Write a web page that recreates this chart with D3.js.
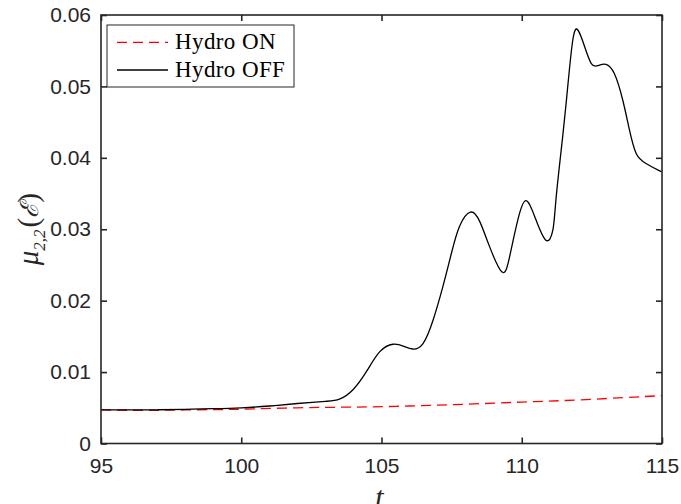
<!DOCTYPE html>
<html>
<head>
	<script src="https://d3js.org/d3.v7.min.js"></script>
	<title></title>
	<style type="text/css">
		body{ margin:0; background:#fff; }
		#chart{ width:681px; height:504px; }
		.tick text{ font-family: "Liberation Sans", Arial, sans-serif; font-size:21px; fill:#262626; }
	</style>
</head>
<body>

	<div id="chart"></div>

	<script type="text/javascript">

		// Hydro OFF (black solid)
		var tOff  = [95, 96, 97, 98, 99, 100, 101, 102, 103, 103.5, 104, 104.5, 104.94, 105.41, 105.8, 106.12, 106.48, 106.84, 107.19, 107.49, 107.78, 108.17, 108.5, 108.85, 109.3, 109.57, 109.86, 110.14, 110.46, 110.85, 111.11, 111.23, 111.46, 111.64, 111.82, 112.0, 112.24, 112.48, 112.71, 113.0, 113.3, 113.6, 113.84, 114.08, 114.43, 114.9, 115];
		var muOff = [0.0047, 0.0047, 0.00472, 0.00478, 0.00487, 0.0050, 0.00525, 0.0056, 0.0059, 0.0062, 0.0076, 0.0103, 0.01286, 0.0139, 0.0136, 0.01323, 0.0140, 0.0173, 0.0220, 0.0266, 0.0304, 0.0324, 0.0311, 0.0276, 0.0240, 0.0262, 0.0313, 0.0340, 0.0318, 0.0285, 0.0299, 0.0346, 0.0430, 0.0500, 0.0565, 0.0579, 0.0556, 0.0532, 0.0529, 0.0531, 0.0518, 0.0481, 0.0439, 0.0406, 0.0392, 0.0382, 0.0381];

		// Hydro ON (red dashed)
		var tOn  = [95, 96, 97, 98, 99, 100, 102, 104, 106, 108, 110, 112, 114, 115];
		var muOn = [0.0047, 0.00465, 0.00465, 0.0047, 0.00475, 0.0048, 0.0050, 0.0051, 0.00525, 0.0055, 0.0058, 0.0061, 0.0065, 0.0067];

		var xTicks = [95, 100, 105, 110, 115];
		var yTicks = [0, 0.01, 0.02, 0.03, 0.04, 0.05, 0.06];
		var legendNames = ["Hydro ON", "Hydro OFF"];

		var width = 681, height = 504;
		var pl = 101, pr = 662, pt = 15, pb = 443.5;

		var svg = d3.select("#chart")
			.append("svg")
			.attr("width", width)
			.attr("height", height);

		var xscale = d3.scaleLinear().domain([95, 115]).range([pl, pr]);
		var yscale = d3.scaleLinear().domain([0, 0.06]).range([pb, pt]);

		svg.append("clipPath").attr("id", "clip")
			.append("rect")
			.attr("x", pl).attr("y", pt)
			.attr("width", pr - pl).attr("height", pb - pt);

		var line = d3.line()
			.x(function(d){ return xscale(d[0]) })
			.y(function(d){ return yscale(d[1]) })
			.curve(d3.curveNatural);

		var onData = tOn.map(function(t, i){ return [t, muOn[i]] });
		var offData = tOff.map(function(t, i){ return [t, muOff[i]] });

		var plot = svg.append("g").attr("clip-path", "url(#clip)");

		plot.append("path")
			.datum(onData)
			.attr("d", line)
			.style("fill", "none")
			.attr("stroke", "#ff0000")
			.style("stroke-width", 1.3)
			.style("stroke-dasharray", "10,6");

		plot.append("path")
			.datum(offData)
			.attr("d", line)
			.style("fill", "none")
			.attr("stroke", "#000")
			.style("stroke-width", 1.3);

		// axes, ticks pointing inwards on all four sides
		svg.append("g")
			.attr("transform", "translate(0," + pb + ")")
			.call(d3.axisBottom(xscale).tickValues(xTicks).tickSize(-6).tickPadding(15).tickFormat(d3.format("d")));
		svg.append("g")
			.attr("transform", "translate(0," + pt + ")")
			.call(d3.axisTop(xscale).tickValues(xTicks).tickSize(-6).tickFormat(""));
		svg.append("g")
			.attr("transform", "translate(" + pl + ",0)")
			.call(d3.axisLeft(yscale).tickValues(yTicks).tickSize(-6).tickPadding(10).tickFormat(function(d){ return d === 0 ? "0" : d3.format(".2f")(d) }));
		svg.append("g")
			.attr("transform", "translate(" + pr + ",0)")
			.call(d3.axisRight(yscale).tickValues(yTicks).tickSize(-6).tickFormat(""));

		svg.selectAll(".tick line").attr("stroke", "#262626").style("stroke-width", 1.6);
		svg.selectAll(".domain").remove();
		svg.append("rect")
			.attr("x", pl).attr("y", pt)
			.attr("width", pr - pl).attr("height", pb - pt)
			.style("fill", "none")
			.attr("stroke", "#262626")
			.style("stroke-width", 1.6);

		// axis labels
		svg.append("text")
			.attr("x", xscale(105) - 2)
			.attr("y", 507)
			.attr("text-anchor", "middle")
			.style("font-family", "'Liberation Serif', serif")
			.style("font-style", "italic")
			.style("font-size", "30px")
			.attr("fill", "#262626")
			.text("t");

		var ylab = svg.append("text")
			.attr("transform", "translate(38," + ((pt + pb) / 2) + ") rotate(-90)")
			.attr("text-anchor", "middle")
			.style("font-family", "'Liberation Serif', 'DejaVu Serif', serif")
			.style("font-size", "29px")
			.attr("fill", "#262626");
		ylab.append("tspan").style("font-style", "italic").text("μ");
		ylab.append("tspan").attr("dy", 7).style("font-size", "17px").style("font-style", "italic").text("2,2");
		ylab.append("tspan").attr("dy", -7).attr("dx", 2).text("(");
		ylab.append("tspan").style("font-family", "'DejaVu Serif', serif").style("font-style", "italic").style("font-size", "25px").text("ℰ");
		ylab.append("tspan").text(")");

		// legend
		var lg = svg.append("g");
		lg.append("rect")
			.attr("x", 107).attr("y", 25)
			.attr("width", 187).attr("height", 62)
			.style("fill", "#fff")
			.attr("stroke", "#262626")
			.style("stroke-width", 1);

		var rows = lg.selectAll(".row")
			.data(legendNames)
			.enter().append("g")
			.attr("transform", function(d, i){ return "translate(0," + (42.3 + i * 27.7) + ")" });

		rows.append("line")
			.attr("x1", 117).attr("x2", 168)
			.attr("y1", 0).attr("y2", 0)
			.attr("stroke", function(d, i){ return i === 0 ? "#ff0000" : "#000" })
			.style("stroke-width", 1.3)
			.style("stroke-dasharray", function(d, i){ return i === 0 ? "10,6" : null });

		rows.append("text")
			.attr("x", 175)
			.attr("y", 7)
			.style("font-family", "'Liberation Serif', serif")
			.style("font-size", "23px")
			.style("letter-spacing", "0.4px")
			.attr("fill", "#000")
			.text(function(d){ return d });

	</script>

</body>
</html>
